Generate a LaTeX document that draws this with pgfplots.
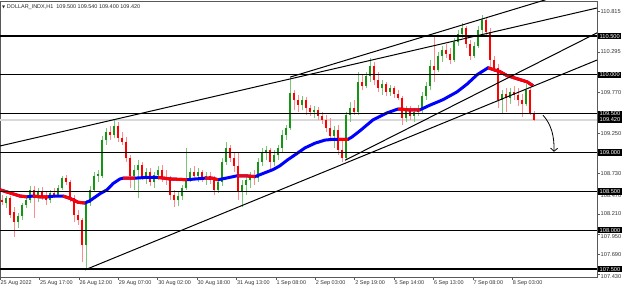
\documentclass[border=0pt]{standalone}
\usepackage{pgfplots}
\pgfplotsset{compat=1.18}
\usepackage{pgfplotstable}
\usepackage{fontspec}
\setmainfont{Liberation Sans}
\newfontfamily\dejavu{DejaVu Sans}
\usetikzlibrary{arrows.meta}

\definecolor{upbody}{RGB}{20,150,20}
\definecolor{upwick}{RGB}{120,200,120}
\definecolor{dnbody}{RGB}{255,0,0}
\definecolor{dnwick}{RGB}{255,140,140}

\pgfplotstableread{
k o h l c
1 108.35 108.44 108.29 108.41
4 108.11 108.22 108.03 108.18
5 108.18 108.35 108.13 108.33
6 108.33 108.41 108.29 108.39
7 108.39 108.57 108.35 108.52
9 108.41 108.54 108.36 108.49
12 108.39 108.52 108.35 108.48
14 108.45 108.58 108.43 108.54
15 108.54 108.70 108.52 108.67
21 107.81 108.39 107.49 108.35
22 108.35 108.57 108.31 108.52
23 108.52 108.75 108.49 108.70
24 108.70 108.78 108.62 108.72
25 108.70 109.21 108.67 109.16
26 109.16 109.32 109.10 109.26
28 109.23 109.42 109.19 109.34
33 108.70 108.84 108.52 108.78
34 108.78 108.90 108.41 108.84
36 108.70 108.80 108.60 108.75
38 108.62 108.75 108.54 108.71
39 108.71 108.83 108.65 108.78
44 108.39 108.49 108.31 108.44
45 108.44 108.58 108.39 108.54
46 108.54 109.06 108.52 108.67
47 108.67 108.80 108.62 108.75
49 108.70 108.80 108.62 108.75
51 108.67 108.75 108.58 108.70
54 108.52 108.67 108.48 108.62
55 108.62 108.93 108.57 108.88
56 108.88 109.14 108.84 109.06
60 108.49 108.65 108.30 108.58
61 108.58 108.70 108.45 108.65
62 108.65 108.75 108.54 108.70
64 108.67 108.93 108.62 108.88
65 108.88 109.06 108.83 109.01
66 109.01 109.08 108.90 109.03
68 108.88 109.03 108.83 108.97
69 108.97 109.10 108.90 109.06
70 109.06 109.29 109.01 109.23
71 109.23 109.35 109.16 109.32
72 109.32 109.96 109.29 109.77
75 109.61 109.73 109.55 109.68
78 109.52 109.60 109.44 109.55
83 109.21 109.34 109.06 109.29
86 108.93 109.52 108.90 109.48
87 109.48 109.65 109.39 109.57
89 109.52 110.04 109.48 109.91
91 109.86 110.04 109.83 109.99
92 109.99 110.22 109.91 110.11
95 109.83 109.93 109.74 109.88
97 109.78 109.87 109.73 109.83
101 109.44 109.60 109.39 109.55
103 109.47 109.57 109.39 109.52
104 109.52 109.61 109.47 109.55
105 109.55 109.78 109.50 109.73
106 109.73 109.91 109.68 109.86
107 109.86 110.19 109.80 110.11
109 110.06 110.29 110.04 110.24
110 110.24 110.37 110.17 110.32
113 110.19 110.47 110.17 110.42
114 110.42 110.58 110.37 110.53
115 110.53 110.67 110.47 110.60
118 110.24 110.42 110.22 110.37
119 110.37 110.63 110.35 110.58
120 110.58 110.77 110.53 110.71
125 109.68 109.80 109.50 109.75
127 109.70 109.83 109.62 109.78
131 109.62 109.88 109.60 109.80
}\upcandles

\pgfplotstableread{
k o h l c
0 108.39 108.45 108.33 108.36
2 108.41 108.44 108.16 108.20
3 108.24 108.30 107.91 108.11
8 108.52 108.57 108.16 108.41
10 108.49 108.56 108.39 108.44
11 108.44 108.49 108.33 108.39
13 108.48 108.54 108.41 108.45
16 108.67 108.71 108.58 108.62
17 108.62 108.65 108.36 108.41
18 108.41 108.45 108.11 108.20
19 108.20 108.26 108.07 108.13
20 108.13 108.16 107.59 107.81
27 109.26 109.34 109.16 109.23
29 109.34 109.39 109.14 109.19
30 109.19 109.26 109.10 109.14
31 109.14 109.20 108.88 108.93
32 108.93 108.97 108.54 108.70
35 108.84 108.88 108.65 108.70
37 108.75 108.80 108.57 108.62
40 108.78 108.84 108.62 108.67
41 108.67 108.78 108.58 108.65
42 108.65 108.70 108.39 108.45
43 108.45 108.52 108.30 108.39
48 108.75 108.83 108.65 108.70
50 108.75 108.78 108.62 108.67
52 108.70 108.75 108.60 108.65
53 108.65 108.70 108.45 108.52
57 109.06 109.10 108.88 108.93
58 108.93 109.01 108.75 108.83
59 108.83 109.01 108.39 108.49
63 108.70 108.78 108.58 108.67
67 109.03 109.06 108.75 108.88
73 109.77 109.80 109.55 109.68
74 109.68 109.74 109.52 109.61
76 109.68 109.71 109.48 109.57
77 109.57 109.61 109.47 109.52
79 109.55 109.59 109.42 109.47
80 109.47 109.52 109.37 109.42
81 109.42 109.48 109.26 109.32
82 109.32 109.44 109.16 109.21
84 109.29 109.35 108.97 109.03
85 109.03 109.16 108.88 108.93
88 109.57 109.68 109.48 109.52
90 109.91 110.00 109.80 109.86
93 110.11 110.17 109.87 109.93
94 109.93 110.04 109.78 109.83
96 109.88 109.91 109.73 109.78
98 109.83 109.86 109.70 109.75
99 109.75 109.80 109.68 109.70
100 109.70 109.73 109.35 109.44
102 109.55 109.60 109.42 109.47
108 110.11 110.51 109.91 110.06
111 110.32 110.40 110.22 110.27
112 110.27 110.35 110.14 110.19
116 110.60 110.63 110.35 110.40
117 110.40 110.45 110.19 110.24
121 110.71 110.74 110.50 110.55
122 110.55 110.60 110.09 110.19
123 110.19 110.24 110.04 110.09
124 110.09 110.14 109.57 109.68
126 109.75 109.83 109.52 109.70
128 109.78 109.86 109.68 109.74
129 109.74 109.83 109.60 109.68
130 109.68 109.75 109.46 109.62
132 109.80 109.83 109.48 109.50
133 109.50 109.54 109.40 109.42
}\downcandles

\pgfplotstableread{
k ma
-0.5 108.52
2 108.48
4.5 108.44
6.25 108.43
7.75 108.44
9.5 108.43
11.5 108.43
13.25 108.44
15.25 108.44
17 108.41
19 108.36
20.75 108.35
22 108.38
24.5 108.47
26.25 108.52
27.75 108.60
29.5 108.66
30.25 108.67
33.25 108.67
36 108.68
39 108.68
42 108.66
46.25 108.65
48.5 108.66
50.75 108.67
52.5 108.67
54 108.65
56 108.67
58.75 108.70
61 108.70
63.25 108.69
65.75 108.74
67.75 108.78
69.5 108.83
71.25 108.90
73.25 108.97
75.75 109.06
78.25 109.12
80.75 109.16
82.75 109.17
84 109.17
86.5 109.17
87.5 109.20
89.5 109.28
92.75 109.42
96.25 109.51
99 109.56
101.5 109.55
104.5 109.55
107 109.61
110.25 109.68
113.75 109.78
116.25 109.88
118.75 110.00
121.5 110.09
124.5 110.04
126.25 109.99
128.75 109.95
131.25 109.91
132.75 109.86
}\matable

\begin{document}
\begin{tikzpicture}
\begin{axis}[
  scale only axis, width=597bp, height=276bp,
  xmin=-0.5, xmax=148.75, ymin=107.398, ymax=110.95,
  axis line style={draw=gray!70!black, line width=0.6bp},
  xtick={-0.5,9.35,19.2,29.05,38.9,48.75,58.6,68.45,78.3,88.15,98.0,107.85,117.7,127.55},
  xticklabels={25 Aug 2022,25 Aug 17:00,26 Aug 12:00,29 Aug 07:00,30 Aug 02:00,30 Aug 18:00,31 Aug 13:00,1 Sep 08:00,2 Sep 03:00,2 Sep 19:00,5 Sep 14:00,6 Sep 13:00,7 Sep 08:00,8 Sep 03:00},
  xtick pos=bottom, ytick pos=right, yticklabel pos=right,
  tick align=outside, major tick length=2.5bp,
  tick style={draw=gray!70!black, line width=0.5bp},
  xticklabel style={font=\fontsize{5.5}{6}\selectfont, anchor=north west, xshift=-0.5bp, inner sep=1bp, text=black!80},
  ytick={110.815,110.295,109.770,109.250,108.730,108.210,107.690},
  yticklabels={110.815,110.295,109.770,109.250,108.730,108.210,107.690},
  extra y ticks={108.470,107.950,107.430},
  extra y tick labels={108.470,107.950,107.430},
  extra y tick style={yticklabel style={yshift=-2.3bp}},
  yticklabel style={font=\fontsize{5.7}{6}\selectfont, anchor=west, inner sep=1bp, text=black!80},
]
% bid line
\addplot[gray!30, line width=1.6bp, forget plot] coordinates {(-0.5,109.42) (148.75,109.42)};
% candles: wicks
\addplot[draw=none, mark=none, forget plot, error bars/.cd, y dir=plus, y explicit, error mark=none,
  error bar style={draw=upwick, line width=0.75bp}] table[x=k, y=l, y error expr=\thisrow{h}-\thisrow{l}] {\upcandles};
\addplot[draw=none, mark=none, forget plot, error bars/.cd, y dir=plus, y explicit, error mark=none,
  error bar style={draw=dnwick, line width=0.75bp}] table[x=k, y=l, y error expr=\thisrow{h}-\thisrow{l}] {\downcandles};
% candles: bodies
\addplot[draw=none, mark=none, forget plot, error bars/.cd, y dir=plus, y explicit, error mark=none,
  error bar style={draw=upbody, line width=1.9bp, line cap=butt}] table[x=k, y=o, y error expr=\thisrow{c}-\thisrow{o}] {\upcandles};
\addplot[draw=none, mark=none, forget plot, error bars/.cd, y dir=plus, y explicit, error mark=none,
  error bar style={draw=dnbody, line width=1.9bp, line cap=butt}] table[x=k, y=c, y error expr=\thisrow{o}-\thisrow{c}] {\downcandles};
% moving average
\addplot[blue, line width=3bp, mark=none] table[x=k, y=ma] {\matable};
\addplot[red, line width=3bp, mark=none, unbounded coords=jump] coordinates {
(-0.5,108.52) (2,108.48) (4.5,108.44) (6.25,108.43) (6.3,nan)
(7.75,108.44) (9.5,108.43) (11.5,108.43) (11.6,nan)
(15.25,108.44) (17,108.41) (19,108.36) (20.75,108.35) (20.8,nan)
(30.25,108.67) (33.25,108.67) (33.3,nan)
(39,108.68) (42,108.66) (46.25,108.65) (46.3,nan)
(50.75,108.67) (52.5,108.67) (54,108.65) (54.1,nan)
(58.75,108.70) (61,108.70) (63.25,108.69) (63.3,nan)
(84,109.17) (86.5,109.17) (86.6,nan)
(99,109.56) (101.5,109.55) (104.5,109.55) (104.6,nan)
(121.5,110.09) (124.5,110.04) (126.25,109.99) (128.75,109.95) (131.25,109.91) (132.75,109.86)
};
% horizontal levels
\foreach \lv in {110.5,110.0,109.5,109.0,108.5,108.0,107.5}{
  \edef\tmp{\noexpand\addplot[black, line width=1.3bp, mark=none, forget plot] coordinates {(-0.5,\lv) (148.75,\lv)};}
  \tmp
}
% trend lines
\addplot[black, line width=1bp, mark=none] coordinates {(-0.5,109.084) (148.75,110.86)};
\addplot[black, line width=1bp, mark=none] coordinates {(72,109.97) (140,111.03)};
\addplot[black, line width=1bp, mark=none] coordinates {(20.75,107.49) (148.75,110.19)};
\addplot[black, line width=1bp, mark=none] coordinates {(85.75,108.90) (148.75,110.54)};
% forecast arrow
\draw[black, line width=0.8bp, -{Straight Barb[length=3bp,width=7bp]}] (axis cs:135.25,109.48) .. controls (axis cs:137.4,109.36) and (axis cs:138.1,109.2) .. (axis cs:138,109.01);
\coordinate (SW) at (rel axis cs:0,0);
\coordinate (NE) at (rel axis cs:1,1);
\coordinate (NW) at (rel axis cs:0,1);
\coordinate (b1) at (axis cs:148.75,110.5);
\coordinate (b2) at (axis cs:148.75,110.0);
\coordinate (b3) at (axis cs:148.75,109.5);
\coordinate (b4) at (axis cs:148.75,109.42);
\coordinate (b5) at (axis cs:148.75,109.0);
\coordinate (b6) at (axis cs:148.75,108.5);
\coordinate (b7) at (axis cs:148.75,108.0);
\coordinate (b8) at (axis cs:148.75,107.5);
\end{axis}
\foreach \c/\t in {b1/110.500,b2/110.000,b3/109.500,b4/109.420,b5/109.000,b6/108.500,b7/108.000,b8/107.500}{
  \node[fill=black, text=white, font=\fontsize{5.7}{6}\selectfont, inner xsep=1.3bp, inner ysep=1.1bp, text height=4.1bp, text depth=0bp, anchor=west] at ([xshift=1.2bp]\c) {\t};
}
\node[anchor=west, inner sep=0, font=\fontsize{5.5}{6}\selectfont, text=black!85] at ([xshift=2bp, yshift=-6.5bp]NW) {{\dejavu\fontsize{4}{4}\selectfont ▼}\ DOLLAR\_INDX,H1\ \ 109.500 109.540 109.400 109.420};
\pgfresetboundingbox
\path ([yshift=-13bp]SW) rectangle ([xshift=28bp, yshift=1bp]NE);
\end{tikzpicture}
\end{document}
